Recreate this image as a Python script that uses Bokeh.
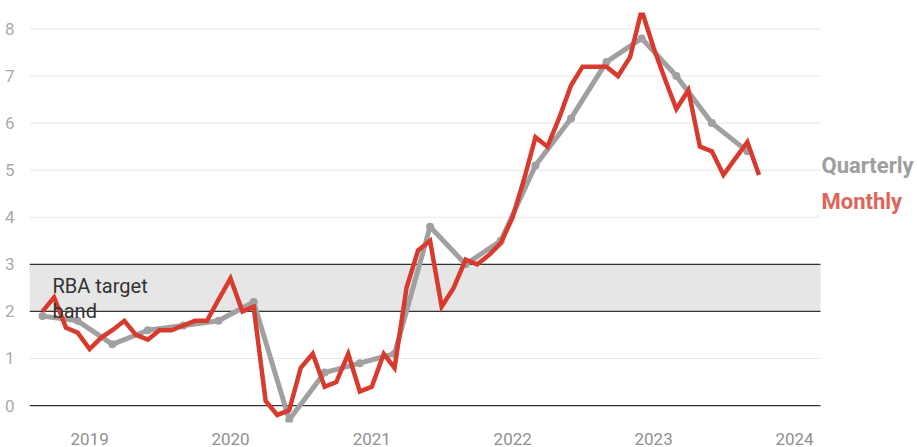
import pandas as pd
from bokeh.plotting import figure
from bokeh.models import ColumnDataSource, Range1d, FixedTicker, DatetimeTickFormatter
from bokeh.core.properties import value
from bokeh.embed import file_html
from bokeh.resources import INLINE

# ---------------- data ----------------
quarter_dates = pd.date_range("2018-09-01", "2023-09-01", freq="3MS")
quarterly = [1.9, 1.8, 1.3, 1.6, 1.7, 1.8, 2.2, -0.3, 0.7, 0.9, 1.1, 3.8, 3.0, 3.5,
             5.1, 6.1, 7.3, 7.8, 7.0, 6.0, 5.4]

month_dates = pd.date_range("2018-09-01", "2023-10-01", freq="MS")
monthly = [2.0, 2.3, 1.65, 1.55,
           1.2, 1.45, 1.6, 1.8, 1.5, 1.4, 1.6, 1.6, 1.7, 1.8, 1.8, 2.25,
           2.7, 2.0, 2.1, 0.1, -0.2, -0.1, 0.8, 1.1, 0.4, 0.5, 1.1, 0.3,
           0.4, 1.1, 0.8, 2.5, 3.3, 3.5, 2.1, 2.5, 3.1, 3.0, 3.2, 3.45,
           4.0, 4.85, 5.7, 5.5, 6.1, 6.8, 7.2, 7.2, 7.2, 7.0, 7.4, 8.4,
           7.6, 6.9, 6.3, 6.7, 5.5, 5.4, 4.9, 5.25, 5.6, 4.9]

year_ticks = [2019, 2020, 2021, 2022, 2023, 2024]
y_ticks = [0, 1, 2, 3, 4, 5, 6, 7, 8]
dark_lines = [0, 2, 3]
band_low, band_high = 2, 3
band_label = ["RBA target", "band"]
band_label_y = [2.53, 2.0]
series_names = ["Quarterly", "Monthly"]
series_label_y = [5.1, 4.33]

# ---------------- style ----------------
FONT = "Roboto"
GREY = "#a0a0a0"
RED = "#d83a2e"

W, H = 917, 447
left_border = 29
chart_w = 791                    # width of the gridded area
px_per_day = 141.0 / 365.25
first_date = pd.Timestamp("2018-09-01")
x_start = first_date - pd.Timedelta(days=13 / px_per_day)
x_grid_end = x_start + pd.Timedelta(days=chart_w / px_per_day)
x_end = x_start + pd.Timedelta(days=(W - left_border) / px_per_day)

p = figure(width=W, height=H, output_backend="svg", toolbar_location=None,
           x_axis_type="datetime",
           x_range=Range1d(x_start, x_end), y_range=Range1d(-0.36, 8.35),
           min_border_left=left_border, min_border_right=0,
           min_border_top=12, min_border_bottom=24)
p.outline_line_color = None
p.background_fill_color = "white"
p.border_fill_color = "white"
p.xgrid.visible = False
p.ygrid.visible = False

# light gridlines, band, dark reference lines (limited to the chart area)
p.segment(x0=[x_start] * len(y_ticks), x1=[x_grid_end] * len(y_ticks), y0=y_ticks, y1=y_ticks,
          line_color="#e8e8e8", line_width=1)
p.quad(left=[x_start], right=[x_grid_end], bottom=[band_low], top=[band_high],
       fill_color="#e6e6e6", line_color=None)
p.segment(x0=[x_start] * len(dark_lines), x1=[x_grid_end] * len(dark_lines),
          y0=dark_lines, y1=dark_lines, line_color="#333333", line_width=1.2)

# axes
p.yaxis.ticker = FixedTicker(ticks=y_ticks)
p.yaxis.axis_line_color = None
p.yaxis.major_tick_line_color = None
p.yaxis.minor_tick_line_color = None
p.yaxis.major_label_standoff = 9
p.yaxis.major_label_text_font = FONT
p.yaxis.major_label_text_font_size = "17px"
p.yaxis.major_label_text_color = "#aaaaaa"

tick_ms = [pd.Timestamp(f"{y}-01-01").value // 10**6 for y in year_ticks]
p.xaxis.ticker = FixedTicker(ticks=tick_ms)
p.xaxis.formatter = DatetimeTickFormatter(years="%Y", months="%Y", days="%Y",
                                          hours="%Y", minutes="%Y")
p.xaxis.axis_line_color = None
p.xaxis.major_tick_line_color = None
p.xaxis.minor_tick_line_color = None
p.xaxis.major_label_standoff = 4
p.xaxis.major_label_text_font = FONT
p.xaxis.major_label_text_font_size = "17px"
p.xaxis.major_label_text_color = "#909090"

# series
qsrc = ColumnDataSource(dict(x=quarter_dates, y=quarterly))
msrc = ColumnDataSource(dict(x=month_dates, y=monthly))
p.line("x", "y", source=qsrc, line_color=GREY, line_width=5, line_join="round")
p.scatter("x", "y", source=qsrc, size=8, fill_color=GREY, line_color=None)
p.line("x", "y", source=msrc, line_color=RED, line_width=4.5, line_join="miter")

# band label
lx = first_date + pd.Timedelta(days=10 / px_per_day)
p.text(x=[lx, lx], y=band_label_y, text=band_label, text_font=value(FONT),
       text_font_size="20px", text_color="#333333", text_baseline="alphabetic")

# series labels right of the chart area
p.text(x=[x_grid_end, x_grid_end], y=series_label_y, text=series_names, x_offset=1,
       text_font=value(FONT), text_font_size="22px", text_font_style="bold",
       text_color=["#9e9e9e", "#e0645a"], text_baseline="middle")

open("out.html", "w").write(file_html(p, INLINE))
